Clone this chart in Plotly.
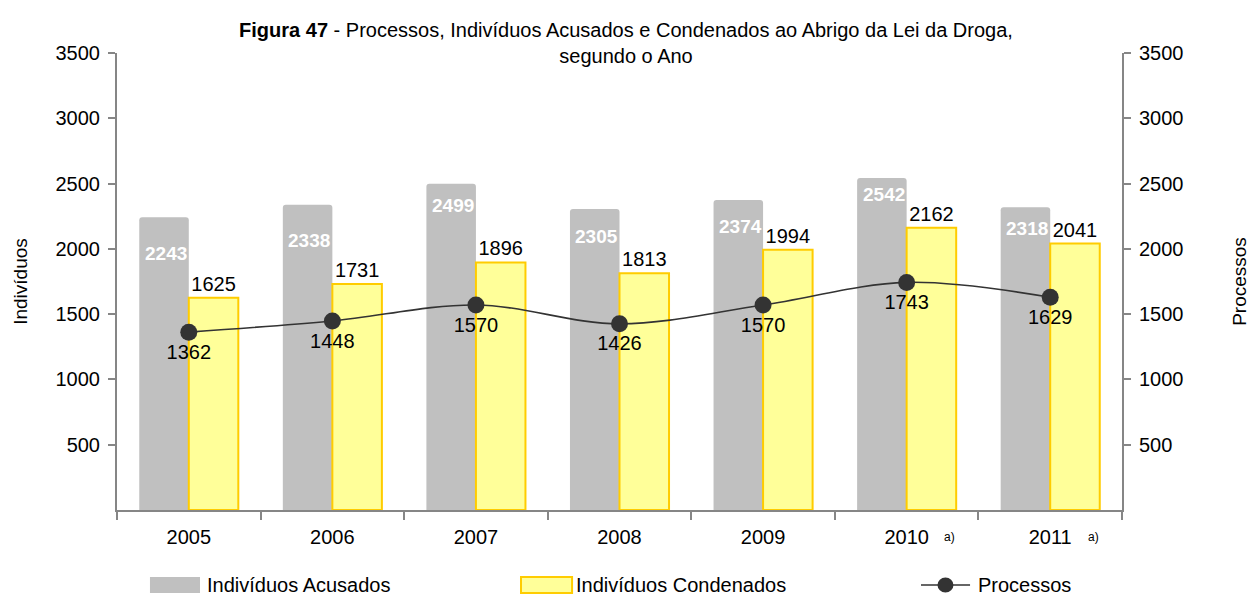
import plotly.graph_objects as go

# Data
anos = ["2005", "2006", "2007", "2008", "2009", "2010", "2011"]
acusados = [2243, 2338, 2499, 2305, 2374, 2542, 2318]
condenados = [1625, 1731, 1896, 1813, 1994, 2162, 2041]
processos = [1362, 1448, 1570, 1426, 1570, 1743, 1629]
anos_com_nota = ["2010", "2011"]
y_ticks = [500, 1000, 1500, 2000, 2500, 3000, 3500]
series_nomes = ["Indivíduos Acusados", "Indivíduos Condenados", "Processos"]

# Styling
FONT = "Liberation Sans, Arial, sans-serif"
AXIS_GRAY = "#868686"
GREY_BAR = "#C0C0C0"
YELLOW_FILL = "#FFFF99"
YELLOW_EDGE = "#FFCC00"
DARK = "#333333"
acusados_label_drop = [36, 36, 22, 27, 26, 16, 21]

fig = go.Figure()

fig.add_trace(go.Bar(
    x=anos, y=acusados, name=series_nomes[0],
    marker=dict(color=GREY_BAR, line=dict(width=0), cornerradius=3),
    offsetgroup="a", showlegend=False,
))
fig.add_trace(go.Bar(
    x=anos, y=condenados, name=series_nomes[1],
    marker=dict(color=YELLOW_FILL, line=dict(color=YELLOW_EDGE, width=2)),
    text=[str(v) for v in condenados], textposition="outside",
    textfont=dict(family=FONT, size=20, color="#000000"),
    cliponaxis=False, offsetgroup="c", showlegend=False,
))
fig.add_trace(go.Scatter(
    x=anos, y=processos, name=series_nomes[2], yaxis="y2",
    mode="lines+markers+text",
    line=dict(color=DARK, width=1.6, shape="spline"),
    marker=dict(color=DARK, size=17),
    text=[str(v) for v in processos], textposition="bottom center",
    textfont=dict(family=FONT, size=20, color="#000000"),
    showlegend=False,
))

# White value labels inside the grey bars (category index positions)
for i, (v, drop) in enumerate(zip(acusados, acusados_label_drop)):
    fig.add_annotation(
        x=i, y=v, xref="x", yref="y", text=f"<b>{v}</b>", showarrow=False,
        xshift=-23, yshift=-drop,
        font=dict(family=FONT, size=19, color="#FFFFFF"),
    )

# Footnote markers next to the year labels
for ano in anos_com_nota:
    fig.add_annotation(
        x=anos.index(ano), y=0, xref="x", yref="y", text="a)", showarrow=False,
        xshift=43, yshift=-27,
        font=dict(family=FONT, size=12, color="#000000"),
    )

# Legend drawn below the plot: wide colour keys followed by the series names
leg_y0, leg_y1, leg_mid = -0.1816, -0.1466, -0.1641
fig.add_shape(type="rect", xref="paper", yref="paper",
              x0=0.0328, x1=0.0826, y0=leg_y0, y1=leg_y1,
              fillcolor=GREY_BAR, line=dict(width=0))
fig.add_shape(type="rect", xref="paper", yref="paper",
              x0=0.4020, x1=0.4528, y0=leg_y0, y1=leg_y1,
              fillcolor=YELLOW_FILL, line=dict(color=YELLOW_EDGE, width=2))
fig.add_shape(type="line", xref="paper", yref="paper",
              x0=0.8000, x1=0.8488, y0=leg_mid, y1=leg_mid,
              line=dict(color=DARK, width=1.6))
fig.add_shape(type="circle", xref="paper", yref="paper",
              x0=0.8164, x1=0.8323, y0=leg_y0 + 0.001, y1=leg_y1 - 0.001,
              fillcolor=DARK, line=dict(color=DARK, width=0))
for nome, x_txt in zip(series_nomes, [0.0876, 0.4548, 0.8547]):
    fig.add_annotation(
        x=x_txt, y=leg_mid, xref="paper", yref="paper", text=nome,
        showarrow=False, xanchor="left", yanchor="middle",
        font=dict(family=FONT, size=20, color="#000000"),
    )

axis_common = dict(
    range=[0, 3500], tickvals=y_ticks, showgrid=False, zeroline=False,
    showline=True, linecolor=AXIS_GRAY, linewidth=2,
    ticks="outside", ticklen=7, tickcolor=AXIS_GRAY, tickwidth=1.5,
    tickfont=dict(family=FONT, size=20, color="#000000"),
    ticklabelstandoff=4,
)

fig.update_layout(
    width=1252, height=595,
    margin=dict(l=117, r=130, t=53, b=85, autoexpand=False),
    paper_bgcolor="#FFFFFF", plot_bgcolor="#FFFFFF",
    barmode="group", bargap=0.31, bargroupgap=0,
    font=dict(family=FONT, size=20, color="#000000"),
    title=dict(
        text="<b>Figura 47</b> - Processos, Indivíduos Acusados e Condenados ao Abrigo da Lei da Droga,<br>segundo o Ano",
        x=0.5, xanchor="center", y=0.937, yanchor="top",
        font=dict(family=FONT, size=20, color="#000000"),
    ),
    xaxis=dict(
        type="category", range=[-0.5, len(anos) - 0.5],
        showgrid=False, showline=True, linecolor=AXIS_GRAY, linewidth=2,
        ticks="outside", tickson="boundaries", ticklen=8, tickcolor=AXIS_GRAY, tickwidth=1.5,
        tickfont=dict(family=FONT, size=20, color="#000000"),
        ticklabelstandoff=8, tickangle=0,
    ),
    yaxis=dict(
        title=dict(text="Indivíduos", font=dict(family=FONT, size=19), standoff=23),
        **axis_common,
    ),
    yaxis2=dict(
        title=dict(text="Processos", font=dict(family=FONT, size=19), standoff=50),
        overlaying="y", side="right", **axis_common,
    ),
    showlegend=False,
)

fig.write_html("out.html")
